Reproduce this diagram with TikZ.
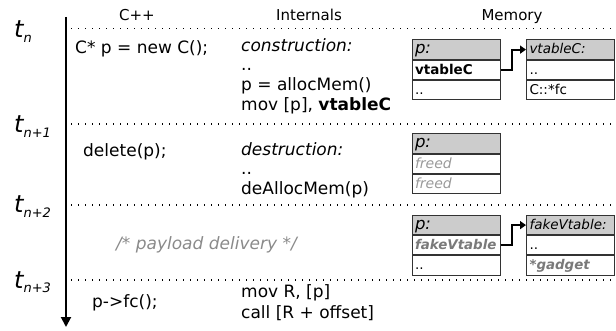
\documentclass[tikz,border=0pt]{standalone}
\usepackage{fontspec}
\setmainfont{DejaVu Sans}
\usetikzlibrary{arrows.meta,positioning}
\definecolor{hdrgray}{HTML}{CCCCCC}
\definecolor{boxline}{HTML}{333333}
\definecolor{deadtext}{HTML}{9A9A9A}
\definecolor{faketext}{HTML}{7A7A7A}
\definecolor{commenttext}{HTML}{8A8A8A}
\newcommand{\tlabel}[1]{{\fontsize{24}{28}\selectfont\itshape t}\raisebox{-5pt}{\fontsize{13}{15}\selectfont\itshape #1}}
\begin{document}
\begin{tikzpicture}[x=1pt,y=-1pt,
  txt/.style={anchor=base west, inner sep=0pt, font=\fontsize{17}{20}\selectfont},
  hdr/.style={anchor=base, inner sep=0pt, font=\fontsize{15}{18}\selectfont},
  tlab/.style={anchor=base west, inner sep=0pt},
  sepline/.style={line width=1.2pt, dash pattern=on 1.2pt off 5.8pt},
  timeline/.style={line width=2pt, -{Triangle[length=10pt,width=10pt]}},
  cell/.style={draw=boxline, line width=1pt, fill=white, minimum height=19.2pt,
    text width=82pt, inner xsep=3pt, inner ysep=0pt, align=left,
    text height=10.5pt, text depth=2pt, font=\fontsize{13.5}{15}\selectfont},
  cellhead/.style={cell, fill=hdrgray, font=\fontsize{13.5}{15}\selectfont\itshape},
  pcell/.style={cellhead, font=\fontsize{16.5}{18}\selectfont\itshape},
  ptr/.style={line width=2pt, -{Triangle[length=6pt,width=8pt]}},
  dead/.style={text=deadtext, font=\fontsize{14}{15}\selectfont\itshape},
  fake/.style={text=faketext, font=\fontsize{13.4}{15}\selectfont\bfseries\itshape},
]
\useasboundingbox (0,0) rectangle (616,331);

% time axis
\coordinate (tl-top) at (66,17);
\coordinate (tl-bot) at (66,327);
\draw[timeline] (tl-top) -- (tl-bot);

% separators between the time steps
\coordinate (s0a) at (71,28.5);  \coordinate (s0b) at (616,28.5);
\coordinate (s1a) at (71,124);   \coordinate (s1b) at (616,124);
\coordinate (s2a) at (71,205);   \coordinate (s2b) at (616,205);
\coordinate (s3a) at (71,280);   \coordinate (s3b) at (616,280);
\draw[sepline] (s0a) -- (s0b);
\draw[sepline] (s1a) -- (s1b);
\draw[sepline] (s2a) -- (s2b);
\draw[sepline] (s3a) -- (s3b);

% time labels
\node[tlab] (t0) at (14,38)  {\tlabel{n}};
\node[tlab] (t1) at (14,133) {\tlabel{n+1}};
\node[tlab] (t2) at (14,213) {\tlabel{n+2}};
\node[tlab] (t3) at (14,288) {\tlabel{n+3}};

% column headers
\node[hdr] (hcpp) at (137,21) {C++};
\node[hdr] (hint) at (309,21) {Internals};
\node[hdr] (hmem) at (512,21) {Memory};

% step n: construction
\node[txt] (c0)  at (75,54)    {C* p = new C();};
\node[txt] (i0a) at (241,51.5) {\itshape construction:};
\node[txt] (i0b) at (241,71)   {..};
\node[txt] (i0c) at (241,91)   {p = allocMem()};
\node[txt] (i0d) at (241,110.5){mov [p], \textbf{vtableC}};

\node[pcell, anchor=north west] (m0a) at (411.5,39.5) {p:};
\node[cell, below=0pt of m0a] (m0b) {\bfseries vtableC};
\node[cell, below=0pt of m0b] (m0c) {..};
\node[cellhead, anchor=north west] (v0a) at (526,39.5) {vtableC:};
\node[cell, below=0pt of v0a] (v0b) {..};
\node[cell, below=0pt of v0b] (v0c) {C::*fc};
\draw[ptr] (m0b.east) -- ++(11,0) |- (v0a.west);

% step n+1: destruction
\node[txt] (c1)  at (83,157)   {delete(p);};
\node[txt] (i1a) at (241,155.5){\itshape destruction:};
\node[txt] (i1b) at (241,175)  {..};
\node[txt] (i1c) at (241,194.5){deAllocMem(p)};

\node[pcell, anchor=north west] (m1a) at (411.5,133.5) {p:};
\node[cell, below=0pt of m1a, dead] (m1b) {freed};
\node[cell, below=0pt of m1b, dead] (m1c) {freed};

% step n+2: payload
\node[txt, text=commenttext, font=\fontsize{17}{20}\selectfont\itshape] (c2) at (116,250) {/* payload delivery */};

\node[pcell, anchor=north west] (m2a) at (411.5,215) {p:};
\node[cell, below=0pt of m2a, fake] (m2b) {fakeVtable};
\node[cell, below=0pt of m2b] (m2c) {..};
\node[cellhead, anchor=north west] (v2a) at (526,215) {fakeVtable:};
\node[cell, below=0pt of v2a] (v2b) {..};
\node[cell, below=0pt of v2b, fake] (v2c) {*gadget};
\draw[ptr] (m2b.east) -- ++(11,0) |- (v2a.west);

% step n+3: virtual call
\node[txt] (c3)  at (92,307)  {p->fc();};
\node[txt] (i3a) at (241,298) {mov R, [p]};
\node[txt] (i3b) at (241,318) {call [R + offset]};
\end{tikzpicture}
\end{document}
